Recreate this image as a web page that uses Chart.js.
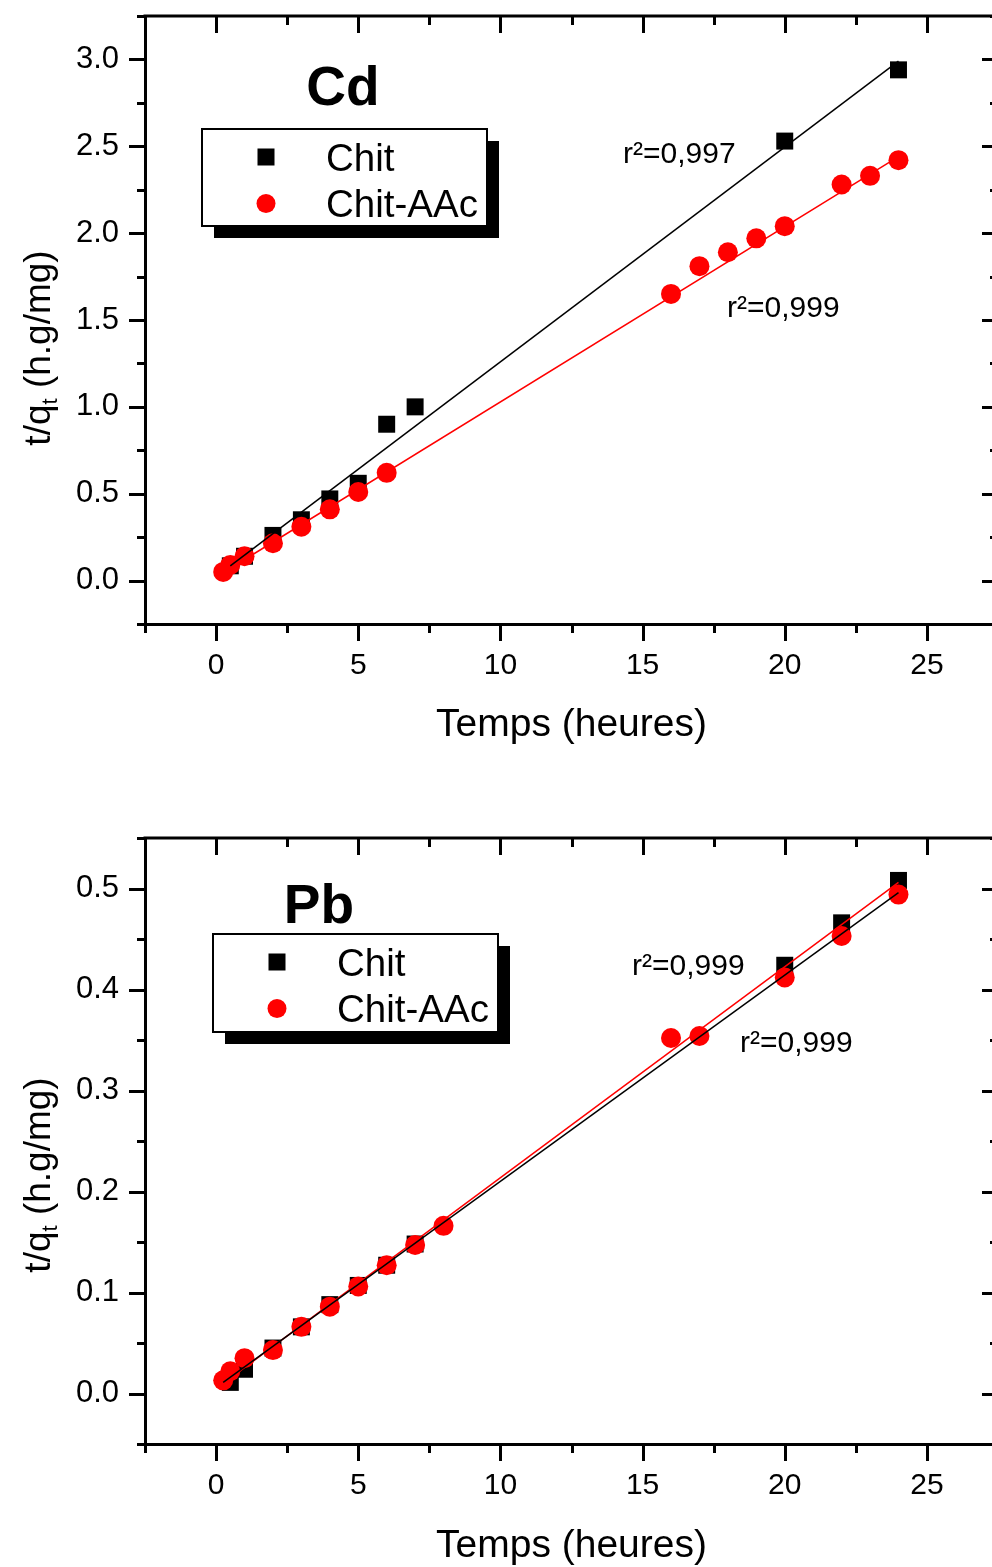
<!DOCTYPE html>
<html>
<head>
<meta charset="utf-8">
<title>t/qt en fonction du temps - Cd et Pb</title>
<script src="https://cdn.jsdelivr.net/npm/chart.js@4.4.1/dist/chart.umd.min.js"></script>
<style>
  html, body { margin: 0; padding: 0; background: #fff; overflow: hidden; }
  #wrap { width: 992px; height: 1567px; overflow: hidden; }
  canvas { display: block; }
</style>
</head>
<body>
<div id="wrap">
  <canvas id="cdChart" width="1010" height="780"></canvas>
  <canvas id="pbChart" width="1010" height="787"></canvas>
</div>
<script>
// time axis (heures)
const xMajorTicks = [0, 5, 10, 15, 20, 25];
const xMinorTicks = [-2.5, 2.5, 7.5, 12.5, 17.5, 22.5, 27.5];

// Cd panel
const cdYMajor = [0, 0.5, 1.0, 1.5, 2.0, 2.5, 3.0];
const cdYMinor = [-0.25, 0.25, 0.75, 1.25, 1.75, 2.25, 2.75, 3.25];
const cdChitX = [0.5, 1, 2, 3, 4, 5, 6, 7, 20, 24];
const cdChitY = [0.085, 0.14, 0.26, 0.35, 0.47, 0.56, 0.90, 1.00, 2.53, 2.94];
const cdAacX = [0.25, 0.5, 1, 2, 3, 4, 5, 6, 16, 17, 18, 19, 20, 22, 23, 24];
const cdAacY = [0.05, 0.09, 0.14, 0.215, 0.31, 0.41, 0.51, 0.62, 1.65, 1.81, 1.89, 1.97, 2.04, 2.28, 2.33, 2.42];
// fitted lines (end points)
const cdChitFitX = [0.5, 24];
const cdChitFitY = [0.085, 2.99];
const cdAacFitX = [0.25, 24];
const cdAacFitY = [0.045, 2.44];

// Pb panel
const pbYMajor = [0, 0.1, 0.2, 0.3, 0.4, 0.5];
const pbYMinor = [-0.05, 0.05, 0.15, 0.25, 0.35, 0.45, 0.55];
const pbChitX = [0.5, 1, 2, 3, 4, 5, 6, 7, 20, 22, 24];
const pbChitY = [0.011, 0.024, 0.045, 0.066, 0.088, 0.107, 0.127, 0.148, 0.424, 0.466, 0.508];
const pbAacX = [0.25, 0.5, 1, 2, 3, 4, 5, 6, 7, 8, 16, 17, 20, 22, 24];
const pbAacY = [0.013, 0.022, 0.035, 0.043, 0.066, 0.086, 0.106, 0.127, 0.147, 0.166, 0.352, 0.354, 0.412, 0.453, 0.494];
const pbChitFitX = [0.25, 24];
const pbChitFitY = [0.011, 0.496];
const pbAacFitX = [0.25, 24];
const pbAacFitY = [0.010, 0.506];

const FONT = '"Liberation Sans", Arial, Helvetica, sans-serif';

const toPoints = (xs, ys) => xs.map((x, i) => ({ x, y: ys[i] }));

function pointSet(label, xs, ys, style, color, radius, order) {
  return {
    label,
    data: toPoints(xs, ys),
    showLine: false,
    pointStyle: style,
    pointRadius: radius,
    pointHoverRadius: radius,
    pointBackgroundColor: color,
    pointBorderColor: color,
    pointBorderWidth: 0,
    legendRadius: style === 'rect' ? 8.5 : 9.5,
    order
  };
}

function fitSet(xs, ys, color) {
  return {
    label: '',
    isFit: true,
    data: toPoints(xs, ys),
    showLine: true,
    borderColor: color,
    borderWidth: 1.5,
    pointRadius: 0,
    fill: false,
    order: 0
  };
}

// frame, Origin-style ticks, y title, shadowed legend and notes
function makeOverlay(cfg) {
  return {
    id: 'overlay_' + cfg.name,
    afterDraw(chart) {
      const { ctx, chartArea: a, scales: { x, y } } = chart;
      ctx.save();
      ctx.strokeStyle = '#000';
      ctx.fillStyle = '#000';
      ctx.lineWidth = 3;

      ctx.beginPath();
      ctx.moveTo(a.left - 1.5, a.top);
      ctx.lineTo(a.right, a.top);
      ctx.lineTo(a.right, a.bottom + 1.5);
      ctx.stroke();

      const xMarks = (vals, len) => {
        ctx.beginPath();
        vals.forEach(v => {
          const px = Math.round(x.getPixelForValue(v)) + 0.5;
          ctx.moveTo(px, a.bottom); ctx.lineTo(px, a.bottom + len);
          ctx.moveTo(px, a.top); ctx.lineTo(px, a.top + len);
        });
        ctx.stroke();
      };
      const yMarks = (vals, len) => {
        ctx.beginPath();
        vals.forEach(v => {
          const py = Math.round(y.getPixelForValue(v)) + 0.5;
          ctx.moveTo(a.left, py); ctx.lineTo(a.left - len, py);
          ctx.moveTo(a.right, py); ctx.lineTo(a.right - len, py);
        });
        ctx.stroke();
      };
      xMarks(xMajorTicks, 17);
      xMarks(xMinorTicks, 9);
      yMarks(cfg.yMajor, 16);
      yMarks(cfg.yMinor, 8);

      // y title with subscript t
      const size = 37;
      const mainF = `${size}px ${FONT}`;
      const subF = `${Math.round(size * 0.6)}px ${FONT}`;
      const parts = [['t/q', mainF, 0], ['t', subF, 7], [' (h.g/mg)', mainF, 0]];
      let total = 0;
      parts.forEach(p => { ctx.font = p[1]; total += ctx.measureText(p[0]).width; });
      ctx.save();
      ctx.translate(cfg.yTitle.x, cfg.yTitle.y);
      ctx.rotate(-Math.PI / 2);
      ctx.textAlign = 'left';
      ctx.textBaseline = 'alphabetic';
      let pos = -total / 2;
      parts.forEach(p => {
        ctx.font = p[1];
        ctx.fillText(p[0], pos, p[2]);
        pos += ctx.measureText(p[0]).width;
      });
      ctx.restore();

      // legend box with drop shadow
      const L = cfg.legend;
      ctx.fillStyle = '#000';
      ctx.fillRect(L.x + 12, L.y + 12, L.w, L.h);
      ctx.fillStyle = '#fff';
      ctx.fillRect(L.x, L.y, L.w, L.h);
      ctx.lineWidth = 2;
      ctx.strokeRect(L.x, L.y, L.w, L.h);
      ctx.font = `38.5px ${FONT}`;
      ctx.textAlign = 'left';
      ctx.textBaseline = 'alphabetic';
      chart.data.datasets.filter(d => !d.isFit).forEach((d, i) => {
        const cy = L.y + 28 + i * 46.5;
        const cx = L.x + 64;
        const r = d.legendRadius;
        ctx.fillStyle = d.pointBackgroundColor;
        if (d.pointStyle === 'rect') {
          ctx.fillRect(cx - r, cy - r, 2 * r, 2 * r);
        } else {
          ctx.beginPath();
          ctx.arc(cx, cy, r, 0, Math.PI * 2);
          ctx.fill();
        }
        ctx.fillStyle = '#000';
        ctx.fillText(d.label, L.x + 124, cy + 13.5);
      });

      // notes
      cfg.notes.forEach(n => {
        ctx.font = n.font;
        ctx.textAlign = n.align || 'left';
        ctx.fillStyle = '#000';
        ctx.fillText(n.text, n.x, n.y);
      });
      ctx.restore();
    }
  };
}

function buildChart(id, cfg) {
  return new Chart(document.getElementById(id), {
    type: 'scatter',
    data: {
      datasets: [
        pointSet('Chit', cfg.chitX, cfg.chitY, 'rect', '#000000', 12, 2),
        pointSet('Chit-AAc', cfg.aacX, cfg.aacY, 'circle', '#ff0000', 10, 1),
        fitSet(cfg.chitFitX, cfg.chitFitY, '#000000'),
        fitSet(cfg.aacFitX, cfg.aacFitY, '#ff0000')
      ]
    },
    options: {
      responsive: false,
      animation: false,
      events: [],
      layout: { padding: { top: cfg.top, right: 10, left: 0, bottom: 0 } },
      plugins: {
        legend: { display: false },
        tooltip: { enabled: false }
      },
      scales: {
        x: {
          type: 'linear',
          min: -2.5,
          max: 27.5,
          afterBuildTicks: s => { s.ticks = xMajorTicks.map(v => ({ value: v })); },
          afterFit: s => {
            s.height = cfg.xHeight;
            s.paddingLeft = 0; s.paddingRight = 0;
          },
          grid: { display: false, drawTicks: false },
          border: { display: true, color: '#000', width: 3 },
          ticks: {
            padding: 27,
            autoSkip: false,
            maxRotation: 0,
            color: '#000',
            font: { family: FONT, size: 30, lineHeight: 1 },
            callback: v => String(v)
          },
          title: {
            display: true,
            text: 'Temps (heures)',
            color: '#000',
            font: { family: FONT, size: 39, lineHeight: 1 },
            padding: { top: 0, bottom: cfg.xTitlePad }
          }
        },
        y: {
          type: 'linear',
          min: cfg.yMin,
          max: cfg.yMax,
          afterBuildTicks: s => { s.ticks = cfg.yMajor.map(v => ({ value: v })); },
          afterFit: s => {
            s.width = 145;
            s.paddingTop = 0; s.paddingBottom = 0;
          },
          grid: { display: false, drawTicks: false },
          border: { display: true, color: '#000', width: 3 },
          ticks: {
            padding: 26,
            autoSkip: false,
            color: '#000',
            font: { family: FONT, size: 31, lineHeight: 1 },
            callback: v => v.toFixed(1)
          }
        }
      }
    },
    plugins: [makeOverlay(cfg)]
  });
}

buildChart('cdChart', {
  name: 'cd',
  top: 16, xHeight: 156, xTitlePad: 35.5,
  yMin: -0.25, yMax: 3.25, yMajor: cdYMajor, yMinor: cdYMinor,
  chitX: cdChitX, chitY: cdChitY, aacX: cdAacX, aacY: cdAacY,
  chitFitX: cdChitFitX, chitFitY: cdChitFitY, aacFitX: cdAacFitX, aacFitY: cdAacFitY,
  yTitle: { x: 50, y: 348 },
  legend: { x: 202, y: 129, w: 285, h: 97 },
  notes: [
    { text: 'Cd', x: 343, y: 105, font: `bold 55px ${FONT}`, align: 'center' },
    { text: 'r²=0,997', x: 623, y: 163, font: `30px ${FONT}` },
    { text: 'r²=0,999', x: 727, y: 317, font: `30px ${FONT}` }
  ]
});

buildChart('pbChart', {
  name: 'pb',
  top: 58, xHeight: 123, xTitlePad: 1,
  yMin: -0.05, yMax: 0.55, yMajor: pbYMajor, yMinor: pbYMinor,
  chitX: pbChitX, chitY: pbChitY, aacX: pbAacX, aacY: pbAacY,
  chitFitX: pbChitFitX, chitFitY: pbChitFitY, aacFitX: pbAacFitX, aacFitY: pbAacFitY,
  yTitle: { x: 50, y: 395 },
  legend: { x: 213, y: 154, w: 285, h: 98 },
  notes: [
    { text: 'Pb', x: 319, y: 143, font: `bold 55px ${FONT}`, align: 'center' },
    { text: 'r²=0,999', x: 632, y: 195, font: `30px ${FONT}` },
    { text: 'r²=0,999', x: 740, y: 272, font: `30px ${FONT}` }
  ]
});
</script>
</body>
</html>
